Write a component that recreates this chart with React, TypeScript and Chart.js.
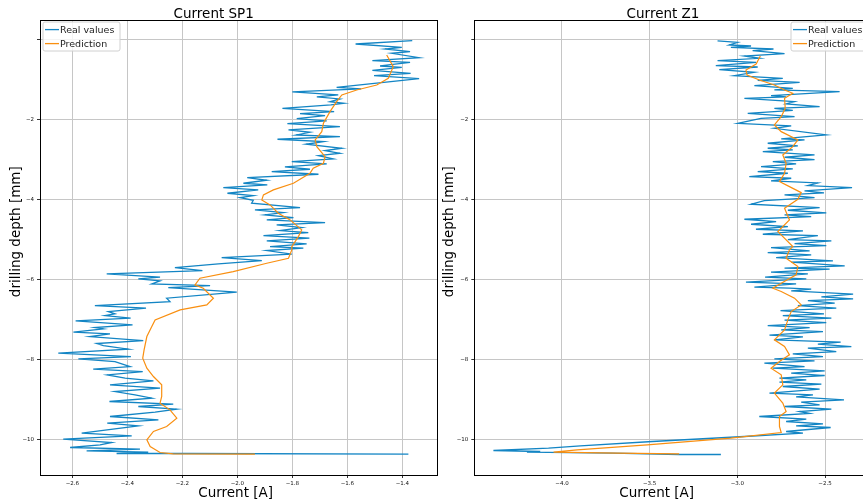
import React, { useEffect, useRef } from 'react';
import { Chart, registerables } from 'chart.js';

Chart.register(...registerables);

// ---------- data (current [A], drilling depth [mm]) ----------
const sp1RealCurrent = [
  -1.364, -1.570, -1.402, -1.463, -1.372, -1.439, -1.339, -1.509, -1.372, -1.481,
  -1.402, -1.509, -1.370, -1.503, -1.339, -1.639, -1.550, -1.800, -1.633, -1.711,
  -1.627, -1.663, -1.612, -1.660, -1.836, -1.648, -1.772, -1.681, -1.784, -1.675,
  -1.818, -1.627, -1.814, -1.736, -1.786, -1.627, -1.854, -1.687, -1.750, -1.620,
  -1.681, -1.627, -1.705, -1.651, -1.802, -1.675, -1.827, -1.736, -1.875, -1.705,
  -1.964, -1.893, -1.978, -1.891, -2.051, -1.924, -2.036, -1.942, -1.990, -1.942,
  -1.948, -1.772, -1.936, -1.833, -1.900, -1.796, -1.893, -1.681, -1.857, -1.766,
  -1.845, -1.742, -1.905, -1.738, -1.893, -1.748, -1.881, -1.760, -1.893, -1.802,
  -2.057, -1.911, -2.069, -2.227, -2.127, -2.475, -2.281, -2.360, -2.281, -2.311,
  -2.099, -2.251, -2.002, -2.257, -2.245, -2.518, -2.332, -2.469, -2.445, -2.481,
  -2.388, -2.588, -2.381, -2.518, -2.487, -2.596, -2.463, -2.536, -2.342, -2.511,
  -2.487, -2.396, -2.651, -2.387, -2.578, -2.445, -2.390, -2.524, -2.344, -2.473,
  -2.408, -2.305, -2.463, -2.281, -2.445, -2.372, -2.311, -2.465, -2.233, -2.360,
  -2.221, -2.299, -2.463, -2.287, -2.473, -2.360, -2.566, -2.384, -2.633, -2.457,
  -2.499, -2.608, -2.354, -2.548, -2.324, -2.439, -2.178, -1.378,
];
const sp1RealDepth = [
  -0.017, -0.100, -0.183, -0.225, -0.292, -0.333, -0.442, -0.517, -0.558, -0.650,
  -0.683, -0.758, -0.833, -0.892, -0.967, -1.183, -1.225, -1.300, -1.375, -1.425,
  -1.475, -1.542, -1.583, -1.625, -1.708, -1.792, -1.842, -1.892, -1.967, -2.025,
  -2.092, -2.167, -2.250, -2.308, -2.375, -2.417, -2.483, -2.542, -2.608, -2.708,
  -2.767, -2.833, -2.892, -2.975, -3.042, -3.100, -3.175, -3.233, -3.292, -3.358,
  -3.442, -3.508, -3.583, -3.625, -3.692, -3.750, -3.833, -3.892, -3.942, -4.008,
  -4.083, -4.192, -4.250, -4.317, -4.375, -4.442, -4.500, -4.567, -4.625, -4.692,
  -4.767, -4.817, -4.892, -4.958, -5.025, -5.100, -5.167, -5.208, -5.267, -5.358,
  -5.442, -5.517, -5.600, -5.692, -5.767, -5.850, -5.933, -5.975, -6.025, -6.100,
  -6.142, -6.192, -6.308, -6.458, -6.542, -6.642, -6.708, -6.792, -6.850, -6.892,
  -6.958, -7.025, -7.125, -7.192, -7.225, -7.308, -7.350, -7.417, -7.517, -7.592,
  -7.642, -7.733, -7.833, -7.917, -7.975, -8.042, -8.167, -8.233, -8.292, -8.375,
  -8.458, -8.525, -8.625, -8.708, -8.792, -8.875, -8.958, -9.042, -9.108, -9.167,
  -9.233, -9.308, -9.417, -9.500, -9.583, -9.650, -9.833, -9.900, -9.983, -10.067,
  -10.125, -10.192, -10.233, -10.275, -10.308, -10.342, -10.342, -10.358,
];

const sp1PredCurrent = [
  -1.457, -1.433, -1.451, -1.493, -1.566, -1.620, -1.639, -1.663, -1.687, -1.693,
  -1.717, -1.711, -1.681, -1.687, -1.724, -1.736, -1.796, -1.869, -1.905, -1.911,
  -1.881, -1.851, -1.808, -1.766, -1.778, -1.802, -1.802, -1.814, -1.893, -2.015,
  -2.136, -2.154, -2.124, -2.087, -2.111, -2.208, -2.299, -2.311, -2.329, -2.339,
  -2.344, -2.329, -2.305, -2.275, -2.275, -2.281, -2.245, -2.220, -2.257, -2.305,
  -2.329, -2.317, -2.281, -2.233, -1.936,
];
const sp1PredDepth = [
  -0.375, -0.667, -0.958, -1.125, -1.250, -1.375, -1.542, -1.792, -2.083, -2.292,
  -2.500, -2.667, -2.917, -3.083, -3.208, -3.333, -3.583, -3.750, -3.875, -4.000,
  -4.125, -4.333, -4.500, -4.750, -4.917, -5.167, -5.250, -5.458, -5.583, -5.792,
  -5.958, -6.125, -6.208, -6.458, -6.625, -6.750, -7.000, -7.167, -7.417, -7.750,
  -7.958, -8.208, -8.417, -8.625, -8.917, -9.083, -9.250, -9.458, -9.667, -9.792,
  -10.000, -10.167, -10.317, -10.350, -10.358,
];

const z1RealCurrent = [
  -3.113, -2.998, -3.046, -2.922, -3.037, -2.794, -2.913, -2.731, -2.960, -2.874,
  -3.113, -2.893, -3.123, -2.884, -3.103, -2.903, -3.018, -2.741, -2.884, -2.645,
  -2.903, -2.684, -2.789, -2.417, -2.808, -2.722, -2.960, -2.674, -2.722, -2.531,
  -2.789, -2.684, -2.941, -2.674, -2.865, -2.998, -2.693, -2.789, -2.493, -2.750,
  -2.617, -2.827, -2.655, -2.827, -2.684, -2.855, -2.560, -2.731, -2.560, -2.798,
  -2.665, -2.865, -2.684, -2.884, -2.712, -2.932, -2.693, -2.808, -2.541, -2.598,
  -2.346, -2.617, -2.506, -2.731, -2.560, -2.846, -2.922, -2.531, -2.712, -2.493,
  -2.731, -2.579, -2.960, -2.779, -2.922, -2.712, -2.894, -2.626, -2.855, -2.541,
  -2.712, -2.464, -2.674, -2.493, -2.808, -2.588, -2.827, -2.579, -2.779, -2.455,
  -2.693, -2.388, -2.731, -2.474, -2.808, -2.598, -2.842, -2.607, -2.951, -2.665,
  -2.903, -2.703, -2.579, -2.693, -2.340, -2.521, -2.340, -2.598, -2.445, -2.655,
  -2.436, -2.754, -2.506, -2.741, -2.464, -2.731, -2.493, -2.827, -2.588, -2.750,
  -2.512, -2.817, -2.626, -2.789, -2.411, -2.541, -2.350, -2.598, -2.436, -2.684,
  -2.512, -2.789, -2.560, -2.846, -2.617, -2.798, -2.502, -2.693, -2.502, -2.760,
  -2.607, -2.760, -2.521, -2.741, -2.531, -2.817, -2.569, -2.665, -2.392, -2.636,
  -2.531, -2.731, -2.464, -2.645, -2.588, -2.875, -2.607, -2.722, -2.512, -2.665,
  -2.468, -2.722, -2.626, -2.960, -3.485, -3.895, -4.077, -4.391, -4.124, -4.200,
  -3.714, -3.332, -3.094,
];
const z1RealDepth = [
  -0.020, -0.060, -0.125, -0.150, -0.183, -0.225, -0.267, -0.342, -0.400, -0.458,
  -0.517, -0.558, -0.642, -0.675, -0.742, -0.808, -0.892, -0.958, -1.008, -1.058,
  -1.142, -1.208, -1.250, -1.292, -1.392, -1.425, -1.458, -1.542, -1.600, -1.667,
  -1.708, -1.758, -1.833, -1.917, -1.958, -2.083, -2.150, -2.208, -2.375, -2.475,
  -2.500, -2.583, -2.650, -2.708, -2.750, -2.792, -2.875, -2.933, -2.992, -3.042,
  -3.100, -3.167, -3.225, -3.292, -3.333, -3.417, -3.458, -3.525, -3.575, -3.642,
  -3.692, -3.775, -3.825, -3.875, -3.942, -4.017, -4.108, -4.192, -4.258, -4.325,
  -4.375, -4.417, -4.483, -4.542, -4.608, -4.667, -4.733, -4.775, -4.858, -4.892,
  -4.992, -5.025, -5.092, -5.142, -5.192, -5.275, -5.317, -5.375, -5.442, -5.525,
  -5.558, -5.650, -5.708, -5.733, -5.808, -5.850, -5.933, -5.975, -6.058, -6.100,
  -6.183, -6.208, -6.233, -6.275, -6.358, -6.425, -6.475, -6.517, -6.583, -6.642,
  -6.708, -6.767, -6.850, -6.892, -6.958, -7.008, -7.067, -7.142, -7.192, -7.250,
  -7.292, -7.383, -7.425, -7.500, -7.558, -7.608, -7.667, -7.708, -7.792, -7.850,
  -7.917, -7.975, -8.025, -8.083, -8.167, -8.208, -8.275, -8.333, -8.392, -8.458,
  -8.500, -8.558, -8.608, -8.667, -8.733, -8.833, -8.875, -8.925, -9.000, -9.058,
  -9.125, -9.167, -9.233, -9.292, -9.342, -9.417, -9.483, -9.542, -9.600, -9.650,
  -9.692, -9.792, -9.833, -9.917, -10.042, -10.150, -10.208, -10.267, -10.292, -10.308,
  -10.333, -10.367, -10.367,
];

const z1PredCurrent = [
  -2.869, -2.893, -2.951, -2.945, -2.874, -2.789, -2.731, -2.684, -2.731, -2.727,
  -2.750, -2.789, -2.750, -2.655, -2.684, -2.741, -2.722, -2.731, -2.760, -2.703,
  -2.636, -2.655, -2.731, -2.703, -2.769, -2.684, -2.703, -2.722, -2.655, -2.665,
  -2.750, -2.798, -2.750, -2.674, -2.636, -2.693, -2.712, -2.731, -2.789, -2.731,
  -2.703, -2.760, -2.808, -2.750, -2.741, -2.789, -2.741, -2.722, -2.760, -2.760,
  -2.750, -3.037, -3.514, -3.914, -4.048, -3.685, -3.332,
];
const z1PredDepth = [
  -0.400, -0.600, -0.750, -0.875, -1.000, -1.125, -1.250, -1.333, -1.458, -1.708,
  -1.917, -2.125, -2.292, -2.500, -2.667, -2.875, -3.083, -3.333, -3.542, -3.667,
  -3.817, -3.983, -4.208, -4.500, -4.792, -5.167, -5.250, -5.458, -5.667, -5.875,
  -6.083, -6.208, -6.292, -6.458, -6.625, -6.792, -7.000, -7.250, -7.500, -7.667,
  -7.875, -8.042, -8.208, -8.375, -8.625, -8.833, -9.083, -9.292, -9.417, -9.667,
  -9.817, -9.958, -10.125, -10.250, -10.308, -10.333, -10.350,
];

const sp1XTicks = [-2.6, -2.4, -2.2, -2.0, -1.8, -1.6, -1.4];
const z1XTicks = [-4.0, -3.5, -3.0, -2.5];
const depthTicks = [-10, -8, -6, -4, -2, 0];
const legendLabels = ['Real values', 'Prediction'];

const BLUE = '#1385c4';
const ORANGE = '#f98f10';
const FONT = '"DejaVu Sans", "Liberation Sans", sans-serif';

function pts(xs: number[], ys: number[]) {
  return xs.map((x, i) => ({ x, y: ys[i] }));
}

function fmt(v: number, dec: number) {
  if (v === 0) return '';
  const s = Math.abs(v).toFixed(dec);
  return (v < 0 ? '\u2212' : '') + s;
}

type PanelOpts = {
  title: string;
  titleX: number;
  xlabelX: number;
  ylabelX: number;
  legendRight: boolean;
};

function makeDecor(p: PanelOpts) {
  return {
    id: 'decor',
    afterDraw(chart: any) {
      const ctx = chart.ctx as CanvasRenderingContext2D;
      const a = chart.chartArea;
      ctx.save();
      // frame
      ctx.strokeStyle = '#000';
      ctx.lineWidth = 1;
      ctx.strokeRect(Math.round(a.left) + 0.5, Math.round(a.top) + 0.5, Math.round(a.right - a.left), Math.round(a.bottom - a.top));
      // texts
      ctx.fillStyle = '#000';
      ctx.font = `13.5px ${FONT}`;
      ctx.textAlign = 'center';
      ctx.textBaseline = 'alphabetic';
      ctx.fillText(p.title, p.titleX, 18.3);
      ctx.fillText('Current [A]', p.xlabelX, 497.3);
      ctx.save();
      ctx.translate(p.ylabelX, 231.7);
      ctx.rotate(-Math.PI / 2);
      ctx.fillText('drilling depth [mm]', 0, 0);
      ctx.restore();
      // legend
      const w = 77;
      const h = 29;
      const lx = p.legendRight ? a.right - 3 - w : a.left + 3;
      const ly = a.top + 2;
      ctx.beginPath();
      const r = 2;
      ctx.moveTo(lx + r, ly);
      ctx.lineTo(lx + w - r, ly);
      ctx.quadraticCurveTo(lx + w, ly, lx + w, ly + r);
      ctx.lineTo(lx + w, ly + h - r);
      ctx.quadraticCurveTo(lx + w, ly + h, lx + w - r, ly + h);
      ctx.lineTo(lx + r, ly + h);
      ctx.quadraticCurveTo(lx, ly + h, lx, ly + h - r);
      ctx.lineTo(lx, ly + r);
      ctx.quadraticCurveTo(lx, ly, lx + r, ly);
      ctx.closePath();
      ctx.fillStyle = 'rgba(255,255,255,0.8)';
      ctx.fill();
      ctx.strokeStyle = '#d0d0d0';
      ctx.lineWidth = 1;
      ctx.stroke();
      const cols = [BLUE, ORANGE];
      ctx.font = `9.5px ${FONT}`;
      ctx.textAlign = 'left';
      ctx.textBaseline = 'middle';
      legendLabels.forEach((lab, i) => {
        const yy = ly + 7.6 + i * 14;
        ctx.strokeStyle = cols[i];
        ctx.lineWidth = 1.3;
        ctx.beginPath();
        ctx.moveTo(lx + 2, yy);
        ctx.lineTo(lx + 16, yy);
        ctx.stroke();
        ctx.fillStyle = '#222';
        ctx.fillText(lab, lx + 17, yy + 0.5);
      });
      ctx.restore();
    },
  };
}

function makeConfig(opts: {
  real: { x: number; y: number }[];
  pred: { x: number; y: number }[];
  xmin: number;
  xmax: number;
  xticks: number[];
  yAxisWidth: number;
  padRight: number;
  decor: PanelOpts;
}) {
  const tickFont = { family: FONT, size: 5.5 };
  return {
    type: 'scatter' as const,
    data: {
      datasets: [
        {
          label: legendLabels[0],
          data: opts.real,
          showLine: true,
          borderColor: BLUE,
          backgroundColor: BLUE,
          borderWidth: 1.3,
          pointRadius: 0,
          tension: 0,
          order: 2,
        },
        {
          label: legendLabels[1],
          data: opts.pred,
          showLine: true,
          borderColor: ORANGE,
          backgroundColor: ORANGE,
          borderWidth: 1.2,
          pointRadius: 0,
          tension: 0,
          order: 1,
        },
      ],
    },
    options: {
      responsive: false,
      animation: false,
      devicePixelRatio: 1,
      layout: { padding: { left: 0, top: 20, right: opts.padRight, bottom: 0 } },
      plugins: {
        legend: { display: false },
        title: { display: false },
        tooltip: { enabled: false },
      },
      scales: {
        x: {
          type: 'linear',
          min: opts.xmin,
          max: opts.xmax,
          afterBuildTicks: (s: any) => {
            s.ticks = opts.xticks.map((v) => ({ value: v }));
          },
          afterFit: (s: any) => {
            s.height = 27;
          },
          ticks: {
            autoSkip: false,
            maxRotation: 0,
            padding: 2,
            color: '#111',
            font: tickFont,
            callback: (v: number) => fmt(v, 1),
          },
          grid: { color: '#c6c6c6', lineWidth: 1, tickLength: 3, tickColor: '#000', tickWidth: 0.8 },
          border: { display: false },
        },
        y: {
          type: 'linear',
          min: -10.88,
          max: 0.5,
          afterBuildTicks: (s: any) => {
            s.ticks = depthTicks.map((v) => ({ value: v }));
          },
          afterFit: (s: any) => {
            s.width = opts.yAxisWidth;
          },
          ticks: {
            autoSkip: false,
            padding: 3,
            color: '#111',
            font: tickFont,
            callback: (v: number) => fmt(v, 0),
          },
          grid: { color: '#c6c6c6', lineWidth: 1, tickLength: 3, tickColor: '#000', tickWidth: 0.8 },
          border: { display: false },
        },
      },
    },
    plugins: [makeDecor(opts.decor)],
  };
}

function Panel(props: { left: number; width: number; config: any }) {
  const ref = useRef<HTMLCanvasElement | null>(null);
  useEffect(() => {
    if (!ref.current) return;
    const chart = new Chart(ref.current, props.config);
    return () => chart.destroy();
  }, []);
  return (
    <canvas
      ref={ref}
      width={props.width}
      height={502}
      style={{ position: 'absolute', left: props.left, top: 0, width: props.width, height: 502 }}
    />
  );
}

export default function App() {
  const leftCfg = makeConfig({
    real: pts(sp1RealCurrent, sp1RealDepth),
    pred: pts(sp1PredCurrent, sp1PredDepth),
    xmin: -2.7175,
    xmax: -1.274,
    xticks: sp1XTicks,
    yAxisWidth: 40,
    padRight: 3,
    decor: { title: 'Current SP1', titleX: 213.7, xlabelX: 235.6, ylabelX: 20, legendRight: false },
  });
  const rightCfg = makeConfig({
    real: pts(z1RealCurrent, z1RealDepth),
    pred: pts(z1PredCurrent, z1PredDepth),
    xmin: -4.5,
    xmax: -2.238,
    xticks: z1XTicks,
    yAxisWidth: 34.3,
    padRight: 9,
    decor: { title: 'Current Z1', titleX: 223, xlabelX: 216.7, ylabelX: 12.7, legendRight: true },
  });
  return (
    <div
      style={{
        position: 'fixed',
        left: 0,
        top: 0,
        width: 863,
        height: 502,
        overflow: 'hidden',
        background: '#fff',
      }}
    >
      <Panel left={0} width={440} config={leftCfg} />
      <Panel left={440} width={440} config={rightCfg} />
    </div>
  );
}
